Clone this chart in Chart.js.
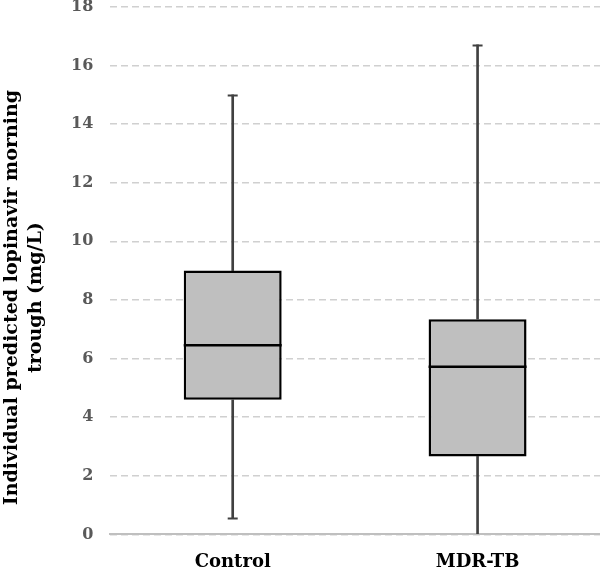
<!DOCTYPE html>
<html>
<head>
<meta charset="utf-8">
<script src="https://cdn.jsdelivr.net/npm/chart.js@4/dist/chart.umd.min.js"></script>
<style>
  html, body { margin: 0; padding: 0; background: #fff; }
  #wrap { width: 600px; height: 573px; position: relative; }
</style>
</head>
<body>
<div id="wrap"><canvas id="box"></canvas></div>
<script>
var categories = ['Control', 'MDR-TB'];
var minVals = [0.55, 0];
var q1Vals = [4.59, 2.66];
var medianVals = [6.45, 5.72];
var q3Vals = [9.0, 7.34];
var maxVals = [15.0, 16.7];
var yTicks = [0, 2, 4, 6, 8, 10, 12, 14, 16, 18];
var yTitle = ['Individual predicted lopinavir morning', 'trough (mg/L)'];

function pairs(a, b) {
    return a.map(function (v, i) { return [v, b[i]]; });
}

// caps on whisker ends and the median line, drawn through the chart's scales
var boxExtras = {
    id: 'boxExtras',
    afterDatasetsDraw: function (chart) {
        var ctx = chart.ctx;
        var x = chart.scales.x, y = chart.scales.y;
        var boxMeta = chart.getDatasetMeta(2);
        ctx.save();
        categories.forEach(function (c, i) {
            var cx = x.getPixelForValue(i);
            ctx.strokeStyle = '#404040';
            ctx.lineWidth = 2;
            [minVals[i], maxVals[i]].forEach(function (v) {
                if (v <= y.min) return;
                var py = Math.round(y.getPixelForValue(v)) + 0.5;
                ctx.beginPath();
                ctx.moveTo(cx - 5, py);
                ctx.lineTo(cx + 5, py);
                ctx.stroke();
            });
            var bar = boxMeta.data[i];
            var half = bar.width / 2;
            var my = y.getPixelForValue(medianVals[i]);
            ctx.strokeStyle = '#000';
            ctx.lineWidth = 2.5;
            ctx.beginPath();
            ctx.moveTo(cx - half, my);
            ctx.lineTo(cx + half, my);
            ctx.stroke();
        });
        ctx.restore();
    }
};

// y axis title, a bit below the middle of the plot as in the original
var yTitlePlugin = {
    id: 'yTitle',
    afterDraw: function (chart) {
        var ctx = chart.ctx;
        var a = chart.chartArea;
        var cy = (a.top + a.bottom) / 2 + 27;
        ctx.save();
        ctx.translate(0, cy);
        ctx.rotate(-Math.PI / 2);
        ctx.fillStyle = '#000';
        ctx.font = 'bold 19px "DejaVu Serif"';
        ctx.textAlign = 'center';
        ctx.textBaseline = 'middle';
        ctx.fillText(yTitle[0], 0, 12);
        ctx.fillText(yTitle[1], 0, 36);
        ctx.restore();
    }
};

var boxChart = new Chart(document.getElementById('box'), {
    type: 'bar',
    data: {
        labels: categories,
        datasets: [{
            label: 'lower whisker',
            data: pairs(minVals, q1Vals),
            backgroundColor: '#404040',
            barThickness: 2,
            grouped: false
        }, {
            label: 'upper whisker',
            data: pairs(q3Vals, maxVals),
            backgroundColor: '#404040',
            barThickness: 2,
            grouped: false
        }, {
            label: 'box',
            data: pairs(q1Vals, q3Vals),
            backgroundColor: '#bfbfbf',
            borderColor: '#000',
            borderWidth: 2.5,
            borderSkipped: false,
            barPercentage: 0.4,
            categoryPercentage: 1,
            grouped: false
        }]
    },
    options: {
        responsive: true,
        maintainAspectRatio: false,
        animation: false,
        layout: { padding: { top: 0, right: 0, bottom: 0, left: 71 } },
        plugins: {
            legend: { display: false },
            tooltip: { enabled: false }
        },
        scales: {
            x: {
                grid: { display: false, drawTicks: true, tickLength: 17 },
                border: { display: true, color: '#bfbfbf', width: 2 },
                ticks: {
                    color: '#000',
                    font: { family: 'DejaVu Serif', weight: 'bold', size: 18 },
                    padding: 0
                }
            },
            y: {
                min: 0,
                max: 18,
                afterBuildTicks: function (axis) {
                    axis.ticks = yTicks.map(function (v) { return { value: v }; });
                },
                grid: {
                    color: '#d0d0d0',
                    lineWidth: 1.5,
                    drawTicks: true,
                    tickLength: 17,
                    tickColor: 'rgba(0,0,0,0)'
                },
                border: { display: false, dash: [7, 4] },
                ticks: {
                    color: '#595959',
                    font: { family: 'DejaVu Serif', weight: 'bold', size: 16, lineHeight: 0.85 },
                    padding: 0
                }
            }
        }
    },
    plugins: [boxExtras, yTitlePlugin]
});
</script>
</body>
</html>
